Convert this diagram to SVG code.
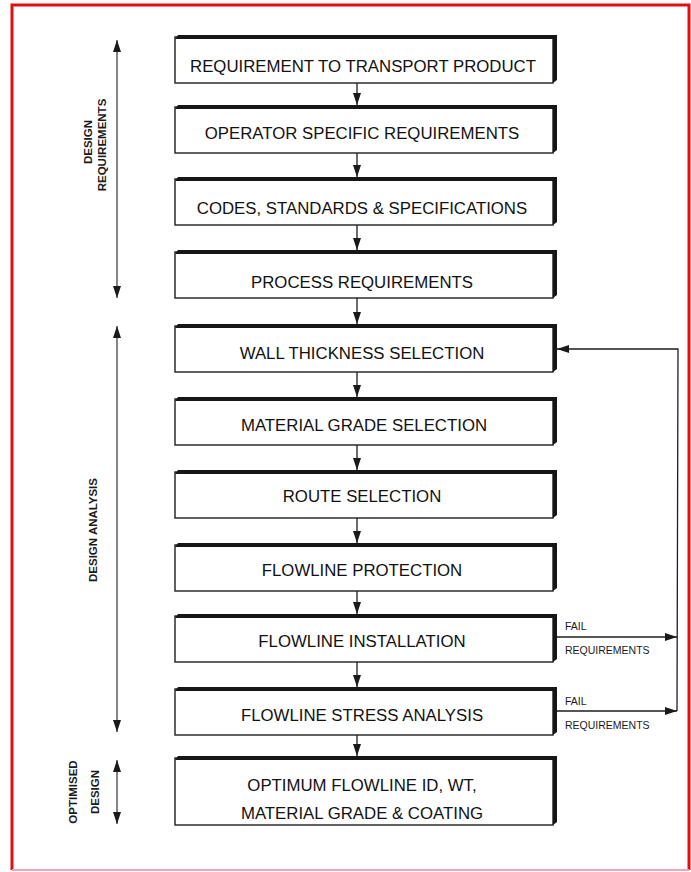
<svg xmlns="http://www.w3.org/2000/svg" width="691" height="872" viewBox="0 0 691 872">
  <style>
    .frame { fill: none; stroke: #e01010; stroke-width: 3; }
    .box { fill: #ffffff; stroke: #1e1e1e; stroke-width: 1.4; }
    .edge { fill: #161616; }
    .label { font-family: "Liberation Sans", Arial, sans-serif; font-size: 16.8px; fill: #111111; text-anchor: middle; }
    .side { font-family: "Liberation Sans", Arial, sans-serif; font-size: 11.5px; font-weight: bold; fill: #1a1a1a; text-anchor: middle; }
    .note { font-family: "Liberation Sans", Arial, sans-serif; font-size: 10.5px; fill: #1a1a1a; }
    .line { fill: none; stroke: #1e1e1e; stroke-width: 1.3; }
    .dim { fill: none; stroke: #333333; stroke-width: 1.2; }
  </style>
  <defs>
    <marker id="head" viewBox="0 0 12 8" refX="12" refY="4" markerWidth="12" markerHeight="8" markerUnits="userSpaceOnUse" orient="auto">
      <path d="M0,0 L12,4 L0,8 Z" fill="#1a1a1a"/>
    </marker>
    <marker id="tail" viewBox="0 0 12 8" refX="0" refY="4" markerWidth="12" markerHeight="8" markerUnits="userSpaceOnUse" orient="auto">
      <path d="M12,0 L0,4 L12,8 Z" fill="#1a1a1a"/>
    </marker>
    <!-- standard box: white face, thin left/bottom, heavy top/right edge -->
    <g id="card">
      <rect class="box" x="175" y="2" width="378" height="46"/>
      <path class="edge" d="M175,4 L178,0 L557,0 L557,45 L553,48 L553,4 Z"/>
    </g>
  </defs>

  <rect width="691" height="872" fill="#ffffff"/>
  <path class="frame" d="M12,870 L12,5 L689,5 L689,870"/>
  <line x1="12" y1="870" x2="689" y2="870" stroke="#f2a6b4" stroke-width="2"/>

  <!-- side range indicators -->
  <g id="range-requirements">
    <line class="dim" x1="117" y1="40" x2="117" y2="298" marker-start="url(#tail)" marker-end="url(#head)"/>
    <text class="side" transform="translate(92,142) rotate(-90)">DESIGN</text>
    <text class="side" transform="translate(106,145) rotate(-90)">REQUIREMENTS</text>
  </g>
  <g id="range-analysis">
    <line class="dim" x1="117" y1="326" x2="117" y2="732" marker-start="url(#tail)" marker-end="url(#head)"/>
    <text class="side" transform="translate(97,530) rotate(-90)">DESIGN ANALYSIS</text>
  </g>
  <g id="range-optimised">
    <line class="dim" x1="117" y1="760" x2="117" y2="824" marker-start="url(#tail)" marker-end="url(#head)"/>
    <text class="side" transform="translate(77,792) rotate(-90)">OPTIMISED</text>
    <text class="side" transform="translate(99,792) rotate(-90)">DESIGN</text>
  </g>

  <!-- process steps -->
  <g id="n1" transform="translate(0,35)">
    <use href="#card"/>
    <text class="label" x="363" y="37">REQUIREMENT TO TRANSPORT PRODUCT</text>
  </g>
  <g id="n2" transform="translate(0,105)">
    <use href="#card"/>
    <text class="label" x="362" y="34">OPERATOR SPECIFIC REQUIREMENTS</text>
  </g>
  <g id="n3" transform="translate(0,177)">
    <use href="#card"/>
    <text class="label" x="362" y="37">CODES, STANDARDS &amp; SPECIFICATIONS</text>
  </g>
  <g id="n4" transform="translate(0,250)">
    <use href="#card"/>
    <text class="label" x="362" y="38">PROCESS REQUIREMENTS</text>
  </g>
  <g id="n5" transform="translate(0,324)">
    <use href="#card"/>
    <text class="label" x="362" y="35">WALL THICKNESS SELECTION</text>
  </g>
  <g id="n6" transform="translate(0,397)">
    <use href="#card"/>
    <text class="label" x="364" y="34">MATERIAL GRADE SELECTION</text>
  </g>
  <g id="n7" transform="translate(0,470)">
    <use href="#card"/>
    <text class="label" x="362" y="32">ROUTE SELECTION</text>
  </g>
  <g id="n8" transform="translate(0,543)">
    <use href="#card"/>
    <text class="label" x="362" y="33">FLOWLINE PROTECTION</text>
  </g>
  <g id="n9" transform="translate(0,614)">
    <use href="#card"/>
    <text class="label" x="362" y="33">FLOWLINE INSTALLATION</text>
  </g>
  <g id="n10" transform="translate(0,687)">
    <use href="#card"/>
    <text class="label" x="362" y="34">FLOWLINE STRESS ANALYSIS</text>
  </g>
  <g id="n11">
    <rect class="box" x="175" y="758" width="378" height="67"/>
    <path class="edge" d="M175,760 L178,756 L557,756 L557,822 L553,825 L553,760 Z"/>
    <text class="label" x="362" y="791">OPTIMUM FLOWLINE ID, WT,</text>
    <text class="label" x="362" y="819">MATERIAL GRADE &amp; COATING</text>
  </g>

  <!-- connectors -->
  <g id="connectors">
    <line class="line" x1="357" y1="83" x2="357" y2="105" marker-end="url(#head)"/>
    <line class="line" x1="357" y1="153" x2="357" y2="177" marker-end="url(#head)"/>
    <line class="line" x1="357" y1="225" x2="357" y2="250" marker-end="url(#head)"/>
    <line class="line" x1="357" y1="298" x2="357" y2="324" marker-end="url(#head)"/>
    <line class="line" x1="357" y1="372" x2="357" y2="397" marker-end="url(#head)"/>
    <line class="line" x1="357" y1="445" x2="357" y2="470" marker-end="url(#head)"/>
    <line class="line" x1="357" y1="518" x2="357" y2="543" marker-end="url(#head)"/>
    <line class="line" x1="357" y1="591" x2="357" y2="614" marker-end="url(#head)"/>
    <line class="line" x1="357" y1="662" x2="357" y2="687" marker-end="url(#head)"/>
    <line class="line" x1="357" y1="735" x2="357" y2="756" marker-end="url(#head)"/>

    <!-- failure feedback loop -->
    <line class="line" x1="557" y1="637" x2="677" y2="637" marker-end="url(#head)"/>
    <line class="line" x1="557" y1="711" x2="677" y2="711" marker-end="url(#head)"/>
    <polyline class="line" points="677,711 678,349 557,349" marker-end="url(#head)"/>
    <text class="note" x="565" y="630">FAIL</text>
    <text class="note" x="565" y="654">REQUIREMENTS</text>
    <text class="note" x="565" y="705">FAIL</text>
    <text class="note" x="565" y="729">REQUIREMENTS</text>
  </g>
</svg>
